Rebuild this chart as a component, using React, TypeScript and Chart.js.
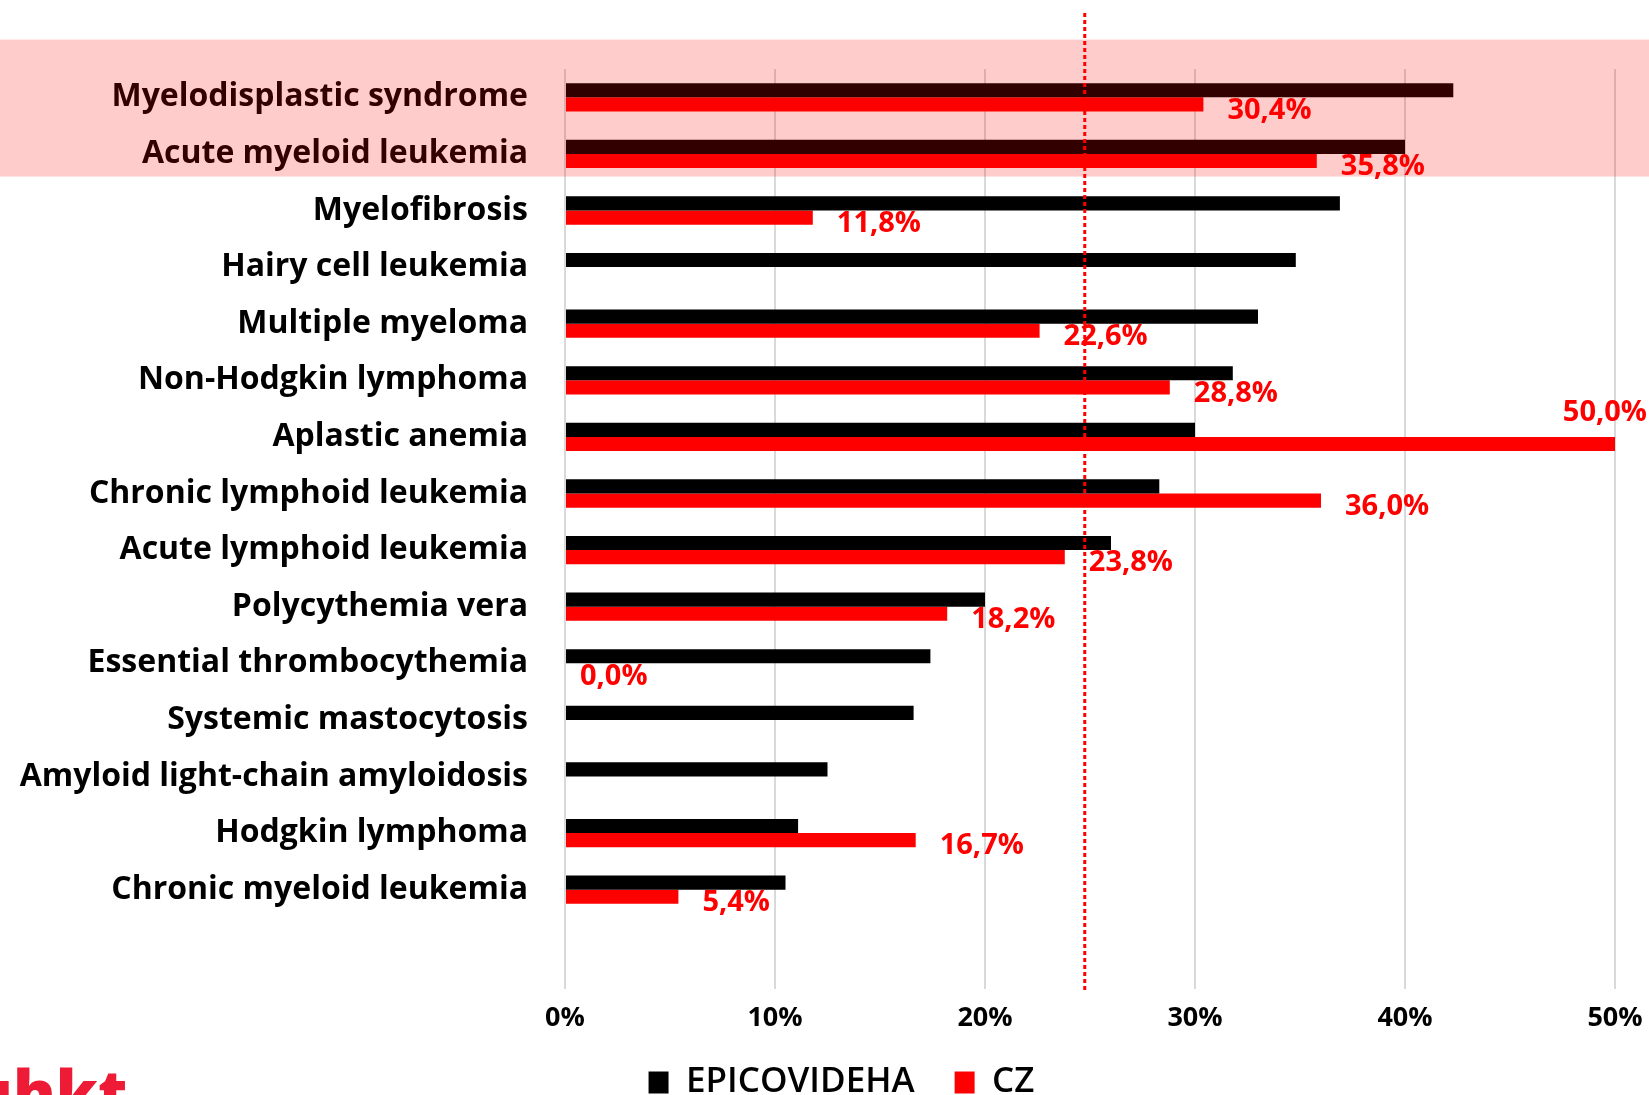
import React, { useEffect, useRef } from 'react';
import { Chart, registerables } from 'chart.js';

Chart.register(...registerables);

const categories = [
  'Myelodisplastic syndrome',
  'Acute myeloid leukemia',
  'Myelofibrosis',
  'Hairy cell leukemia',
  'Multiple myeloma',
  'Non-Hodgkin lymphoma',
  'Aplastic anemia',
  'Chronic lymphoid leukemia',
  'Acute lymphoid leukemia',
  'Polycythemia vera',
  'Essential thrombocythemia',
  'Systemic mastocytosis',
  'Amyloid light-chain amyloidosis',
  'Hodgkin lymphoma',
  'Chronic myeloid leukemia',
];

const epicovidehaValues = [42.3, 40.0, 36.9, 34.8, 33.0, 31.8, 30.0, 28.3, 26.0, 20.0, 17.4, 16.6, 12.5, 11.1, 10.5];
const czValues: (number | null)[] = [30.4, 35.8, 11.8, null, 22.6, 28.8, 50.0, 36.0, 23.8, 18.2, 0.0, null, null, 16.7, 5.4];

const xTickValues = [0, 10, 20, 30, 40, 50];
const referenceLineValue = 24.75;
const highlightedCount = 2;

const seriesNames = ['EPICOVIDEHA', 'CZ'];

const FONT = '"Open Sans", sans-serif';

const fmt = (v: number) => v.toFixed(1).replace('.', ',') + '%';

const overlayPlugin = {
  id: 'overlays',
  beforeLayout(chart: any) {
    const lg = chart.legend;
    if (lg && !lg._fitPatched) {
      const orig = lg.fit.bind(lg);
      lg.fit = function () {
        orig();
        this.height = 55;
      };
      lg._fitPatched = true;
    }
  },
  afterLayout(chart: any) {
    const lg = chart.legend;
    if (lg) {
      lg.left += 34;
      lg.right += 34;
      lg.top = chart.height - 70;
      lg.bottom = lg.top + 70;
    }
  },
  afterDatasetsDraw(chart: any) {
    const { ctx, chartArea, scales } = chart;
    const x = scales.x;

    // data labels for CZ series
    const meta = chart.getDatasetMeta(1);
    ctx.save();
    ctx.font = `700 29px ${FONT}`;
    ctx.fillStyle = '#ff0000';
    ctx.textBaseline = 'middle';
    meta.data.forEach((el: any, i: number) => {
      const v = czValues[i];
      if (v === null || v === undefined) return;
      const text = fmt(v);
      const w = ctx.measureText(text).width;
      const endX = el.x;
      if (endX + 24 + w > chart.width) {
        ctx.textAlign = 'right';
        ctx.fillText(text, chart.width - 2, el.y - 31);
      } else {
        ctx.textAlign = 'left';
        ctx.fillText(text, endX + (v === 0 ? 15 : 24), el.y + 6);
      }
    });
    ctx.restore();

    // reference dotted line
    const rx = x.getPixelForValue(referenceLineValue);
    ctx.save();
    ctx.strokeStyle = '#ff0000';
    ctx.lineWidth = 3;
    ctx.setLineDash([4, 3]);
    ctx.beginPath();
    ctx.moveTo(rx, chartArea.top - 56);
    ctx.lineTo(rx, chartArea.bottom + 74);
    ctx.stroke();
    ctx.restore();
  },
  afterDraw(chart: any) {
    const { ctx, chartArea, scales } = chart;
    const y = scales.y;
    const band = (chartArea.bottom - chartArea.top) / categories.length;
    const top = y.getPixelForValue(0) - band * 1.02;
    const bottom = y.getPixelForValue(highlightedCount - 1) + band * 0.4;
    ctx.save();
    ctx.fillStyle = 'rgba(255,0,0,0.2)';
    ctx.fillRect(0, top, chart.width, bottom - top);
    ctx.restore();
  },
};

export default function App() {
  const canvasRef = useRef<HTMLCanvasElement | null>(null);

  useEffect(() => {
    if (!canvasRef.current) return;
    const chart = new Chart(canvasRef.current, {
      type: 'bar',
      data: {
        labels: categories,
        datasets: [
          {
            label: seriesNames[0],
            data: epicovidehaValues,
            backgroundColor: '#000000',
            borderWidth: 0,
            barPercentage: 1.0,
            categoryPercentage: 0.5,
          },
          {
            label: seriesNames[1],
            data: czValues,
            backgroundColor: '#ff0000',
            borderWidth: 0,
            barPercentage: 1.0,
            categoryPercentage: 0.5,
          },
        ],
      },
      options: {
        indexAxis: 'y',
        responsive: false,
        animation: false,
        devicePixelRatio: 1,
        layout: { padding: { top: 69, right: 34, left: 0, bottom: 0 } },
        scales: {
          x: {
            type: 'linear',
            min: 0,
            max: 50,
            afterBuildTicks: (scale: any) => {
              scale.ticks = xTickValues.map((v) => ({ value: v }));
            },
            afterFit: (scale: any) => {
              scale.height = 122;
              scale.paddingLeft = 0;
              scale.paddingRight = 0;
            },
            grid: {
              color: '#d9d9d9',
              lineWidth: 2,
              drawTicks: true,
              tickLength: 71,
              tickColor: '#d9d9d9',
            },
            border: { display: false },
            ticks: {
              padding: 13,
              color: '#000000',
              font: { family: FONT, size: 27, weight: 'bold' },
              callback: (v: any) => `${v}%`,
            },
          },
          y: {
            type: 'category',
            afterFit: (scale: any) => {
              scale.width = 565;
            },
            grid: { display: false },
            border: { display: false },
            ticks: {
              padding: 29,
              color: '#000000',
              font: { family: FONT, size: 32, weight: 'bold' },
            },
          },
        },
        plugins: {
          legend: {
            display: true,
            position: 'bottom',
            labels: {
              boxWidth: 20,
              boxHeight: 22,
              padding: 40,
              color: '#000000',
              font: { family: FONT, size: 35, weight: '600' },
            },
          },
          tooltip: { enabled: false },
        },
      },
      plugins: [overlayPlugin],
    } as any);
    return () => chart.destroy();
  }, []);

  return (
    <div
      style={{
        position: 'absolute',
        left: 0,
        top: 0,
        width: 1649,
        height: 1095,
        overflow: 'hidden',
        background: '#ffffff',
      }}
    >
      <canvas ref={canvasRef} width={1649} height={1095} style={{ display: 'block' }} />
      <div
        style={{
          position: 'absolute',
          left: -30,
          top: 1060,
          fontFamily: FONT,
          fontWeight: 800,
          fontSize: 64,
          lineHeight: '64px',
          color: '#ed1b36',
          whiteSpace: 'nowrap',
        }}
      >
        uhkt
      </div>
    </div>
  );
}
